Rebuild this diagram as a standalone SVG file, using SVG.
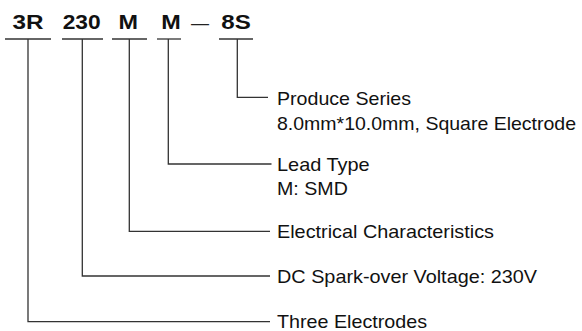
<svg xmlns="http://www.w3.org/2000/svg" width="582" height="331" viewBox="0 0 582 331">
<style>
  .code{font-family:"Liberation Sans",Arial,sans-serif;font-weight:bold;font-size:20.5px;fill:#111;text-anchor:middle}
  .dash{font-family:"Liberation Sans",Arial,sans-serif;font-size:20px;fill:#222;text-anchor:middle}
  .lbl{font-family:"Liberation Sans",Arial,sans-serif;font-size:18.5px;fill:#111}
  .ln{fill:none;stroke:#333;stroke-width:1.3}
</style>
<rect width="582" height="331" fill="#fff"/>
<g id="code">
  <text class="code" x="28" y="29" textLength="31" lengthAdjust="spacingAndGlyphs">3R</text>
  <text class="code" x="81.7" y="29" textLength="38" lengthAdjust="spacingAndGlyphs">230</text>
  <text class="code" x="128.3" y="29" textLength="19.5" lengthAdjust="spacingAndGlyphs">M</text>
  <text class="code" x="171" y="29" textLength="19.5" lengthAdjust="spacingAndGlyphs">M</text>
  <text class="dash" x="200" y="30" textLength="18" lengthAdjust="spacingAndGlyphs">—</text>
  <text class="code" x="236" y="29" textLength="29.5" lengthAdjust="spacingAndGlyphs">8S</text>
  <g class="ln">
    <line x1="5" y1="39" x2="51" y2="39"/>
    <line x1="62" y1="39" x2="103" y2="39"/>
    <line x1="112" y1="39" x2="147" y2="39"/>
    <line x1="157" y1="39" x2="181" y2="39"/>
    <line x1="219" y1="39" x2="253" y2="39"/>
  </g>
</g>
<g id="connectors" class="ln">
  <polyline points="28,39 28,321.7 270,321.7"/>
  <polyline points="82.3,39 82.3,276 270,276"/>
  <polyline points="129.3,39 129.3,231.3 270,231.3"/>
  <polyline points="168.3,39 168.3,164 271.5,164"/>
  <polyline points="237.3,39 237.3,97.3 268,97.3"/>
</g>
<g id="node-series">
  <text class="lbl" x="277" y="104.7" textLength="134" lengthAdjust="spacingAndGlyphs">Produce Series</text>
  <text class="lbl" x="277" y="129.7" textLength="299" lengthAdjust="spacingAndGlyphs">8.0mm*10.0mm, Square Electrode</text>
</g>
<g id="node-lead">
  <text class="lbl" x="277" y="171.2" textLength="92.7" lengthAdjust="spacingAndGlyphs">Lead Type</text>
  <text class="lbl" x="277" y="195" textLength="70.8" lengthAdjust="spacingAndGlyphs">M: SMD</text>
</g>
<g id="node-electrical">
  <text class="lbl" x="277" y="237.6" textLength="217" lengthAdjust="spacingAndGlyphs">Electrical Characteristics</text>
</g>
<g id="node-voltage">
  <text class="lbl" x="277" y="282.8" textLength="260" lengthAdjust="spacingAndGlyphs">DC Spark-over Voltage: 230V</text>
</g>
<g id="node-electrodes">
  <text class="lbl" x="277" y="328.2" textLength="150" lengthAdjust="spacingAndGlyphs">Three Electrodes</text>
</g>
</svg>
